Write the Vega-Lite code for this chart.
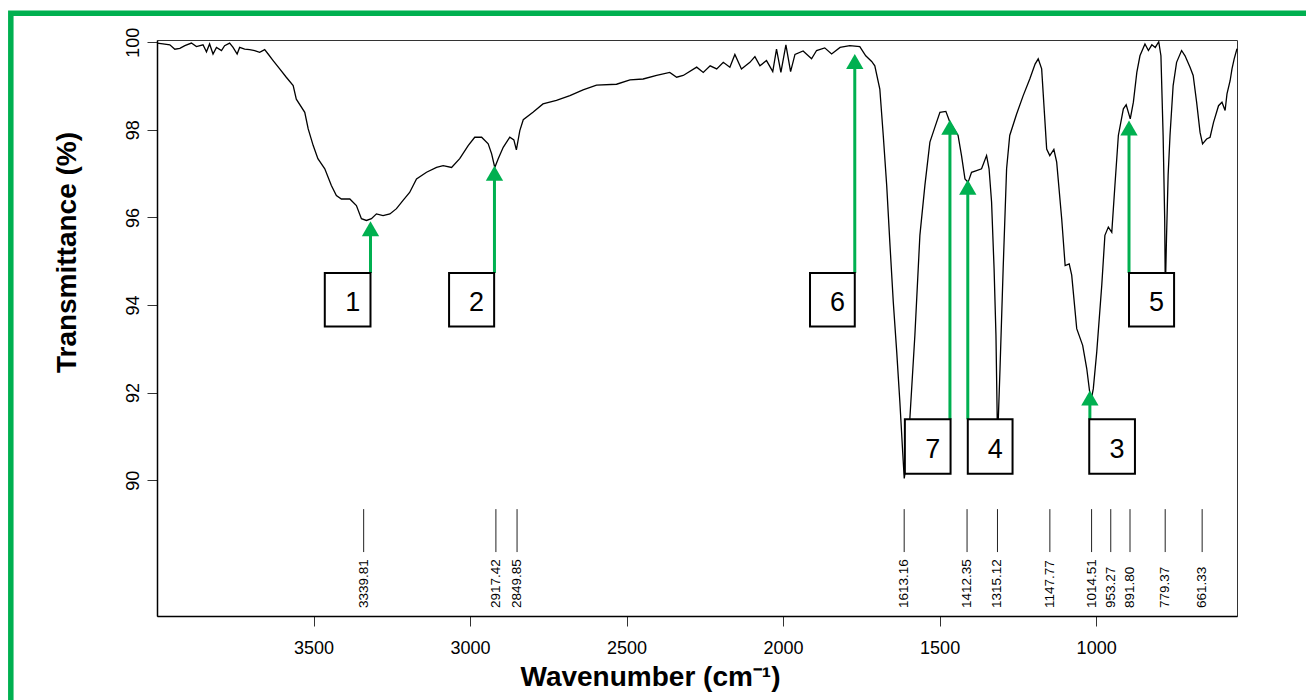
{
  "$schema": "https://vega.github.io/schema/vega-lite/v6.json",
  "width": 1080,
  "height": 576,
  "autosize": {"type": "none"},
  "padding": {"left": 157, "top": 40, "right": 69, "bottom": 84},
  "background": "white",
  "config": {
    "font": "Liberation Sans",
    "view": {"stroke": "#333333", "strokeWidth": 1},
    "axis": {"grid": false}
  },
  "datasets": {
    "spec": [
      {"wn": 4000, "t": 99.98}, {"wn": 3981, "t": 99.96}, {"wn": 3959, "t": 99.94}, {"wn": 3943, "t": 99.84},
      {"wn": 3927, "t": 99.86}, {"wn": 3911, "t": 99.92}, {"wn": 3890, "t": 99.98}, {"wn": 3874, "t": 99.90},
      {"wn": 3853, "t": 99.94}, {"wn": 3842, "t": 99.78}, {"wn": 3832, "t": 99.96}, {"wn": 3821, "t": 99.73},
      {"wn": 3810, "t": 99.88}, {"wn": 3794, "t": 99.81}, {"wn": 3784, "t": 99.92}, {"wn": 3768, "t": 99.98},
      {"wn": 3757, "t": 99.88}, {"wn": 3744, "t": 99.73}, {"wn": 3736, "t": 99.88}, {"wn": 3720, "t": 99.84},
      {"wn": 3704, "t": 99.83}, {"wn": 3688, "t": 99.81}, {"wn": 3672, "t": 99.77}, {"wn": 3656, "t": 99.83},
      {"wn": 3645, "t": 99.73}, {"wn": 3629, "t": 99.58}, {"wn": 3608, "t": 99.39}, {"wn": 3587, "t": 99.20},
      {"wn": 3565, "t": 99.01}, {"wn": 3555, "t": 98.70}, {"wn": 3528, "t": 98.40}, {"wn": 3517, "t": 98.02},
      {"wn": 3501, "t": 97.64}, {"wn": 3486, "t": 97.34}, {"wn": 3464, "t": 97.11}, {"wn": 3443, "t": 96.73},
      {"wn": 3427, "t": 96.50}, {"wn": 3411, "t": 96.42}, {"wn": 3384, "t": 96.42}, {"wn": 3363, "t": 96.27},
      {"wn": 3347, "t": 95.97}, {"wn": 3331, "t": 95.93}, {"wn": 3315, "t": 95.97}, {"wn": 3299, "t": 96.08},
      {"wn": 3278, "t": 96.04}, {"wn": 3256, "t": 96.08}, {"wn": 3235, "t": 96.20}, {"wn": 3214, "t": 96.39},
      {"wn": 3193, "t": 96.57}, {"wn": 3171, "t": 96.88}, {"wn": 3139, "t": 97.03}, {"wn": 3107, "t": 97.14},
      {"wn": 3086, "t": 97.18}, {"wn": 3059, "t": 97.14}, {"wn": 3033, "t": 97.34}, {"wn": 3006, "t": 97.64},
      {"wn": 2985, "t": 97.83}, {"wn": 2963, "t": 97.83}, {"wn": 2942, "t": 97.68}, {"wn": 2931, "t": 97.45},
      {"wn": 2921, "t": 97.14}, {"wn": 2910, "t": 97.34}, {"wn": 2894, "t": 97.60}, {"wn": 2873, "t": 97.83},
      {"wn": 2860, "t": 97.77}, {"wn": 2852, "t": 97.54}, {"wn": 2841, "t": 97.98}, {"wn": 2830, "t": 98.23},
      {"wn": 2799, "t": 98.40}, {"wn": 2767, "t": 98.59}, {"wn": 2724, "t": 98.67}, {"wn": 2681, "t": 98.78},
      {"wn": 2639, "t": 98.91}, {"wn": 2596, "t": 99.02}, {"wn": 2532, "t": 99.04}, {"wn": 2489, "t": 99.14},
      {"wn": 2447, "t": 99.16}, {"wn": 2404, "t": 99.24}, {"wn": 2362, "t": 99.31}, {"wn": 2340, "t": 99.20},
      {"wn": 2319, "t": 99.24}, {"wn": 2276, "t": 99.43}, {"wn": 2255, "t": 99.31}, {"wn": 2233, "t": 99.46},
      {"wn": 2212, "t": 99.39}, {"wn": 2191, "t": 99.54}, {"wn": 2170, "t": 99.43}, {"wn": 2154, "t": 99.72},
      {"wn": 2133, "t": 99.39}, {"wn": 2106, "t": 99.54}, {"wn": 2090, "t": 99.67}, {"wn": 2074, "t": 99.46},
      {"wn": 2053, "t": 99.58}, {"wn": 2033, "t": 99.33}, {"wn": 2021, "t": 99.84}, {"wn": 2007, "t": 99.31},
      {"wn": 1991, "t": 99.94}, {"wn": 1976, "t": 99.33}, {"wn": 1962, "t": 99.72}, {"wn": 1936, "t": 99.80},
      {"wn": 1909, "t": 99.62}, {"wn": 1893, "t": 99.81}, {"wn": 1867, "t": 99.87}, {"wn": 1845, "t": 99.73},
      {"wn": 1818, "t": 99.88}, {"wn": 1787, "t": 99.92}, {"wn": 1755, "t": 99.90}, {"wn": 1736, "t": 99.69},
      {"wn": 1717, "t": 99.56}, {"wn": 1707, "t": 99.46}, {"wn": 1691, "t": 98.93}, {"wn": 1680, "t": 97.87},
      {"wn": 1669, "t": 96.73}, {"wn": 1659, "t": 95.43}, {"wn": 1648, "t": 94.07}, {"wn": 1637, "t": 92.93},
      {"wn": 1627, "t": 91.79}, {"wn": 1618, "t": 90.65}, {"wn": 1613, "t": 90.04}, {"wn": 1605, "t": 90.42},
      {"wn": 1595, "t": 91.41}, {"wn": 1579, "t": 93.31}, {"wn": 1563, "t": 95.59}, {"wn": 1547, "t": 96.73},
      {"wn": 1531, "t": 97.72}, {"wn": 1515, "t": 98.06}, {"wn": 1499, "t": 98.40}, {"wn": 1480, "t": 98.42},
      {"wn": 1467, "t": 98.17}, {"wn": 1441, "t": 97.87}, {"wn": 1430, "t": 97.41}, {"wn": 1419, "t": 96.88},
      {"wn": 1409, "t": 96.80}, {"wn": 1398, "t": 97.03}, {"wn": 1382, "t": 97.07}, {"wn": 1366, "t": 97.11},
      {"wn": 1350, "t": 97.41}, {"wn": 1342, "t": 97.11}, {"wn": 1334, "t": 96.35}, {"wn": 1326, "t": 94.83},
      {"wn": 1320, "t": 93.31}, {"wn": 1316, "t": 91.41}, {"wn": 1315, "t": 91.0}, {"wn": 1312, "t": 91.5},
      {"wn": 1307, "t": 92.55}, {"wn": 1297, "t": 94.83}, {"wn": 1286, "t": 97.11}, {"wn": 1276, "t": 97.87},
      {"wn": 1254, "t": 98.36}, {"wn": 1233, "t": 98.78}, {"wn": 1212, "t": 99.16}, {"wn": 1195, "t": 99.50},
      {"wn": 1185, "t": 99.62}, {"wn": 1174, "t": 99.39}, {"wn": 1164, "t": 98.25}, {"wn": 1158, "t": 97.56},
      {"wn": 1148, "t": 97.41}, {"wn": 1135, "t": 97.55}, {"wn": 1126, "t": 97.26}, {"wn": 1110, "t": 95.97},
      {"wn": 1099, "t": 94.90}, {"wn": 1086, "t": 94.94}, {"wn": 1078, "t": 94.68}, {"wn": 1062, "t": 93.46},
      {"wn": 1043, "t": 93.08}, {"wn": 1030, "t": 92.55}, {"wn": 1020, "t": 91.98}, {"wn": 1014, "t": 91.90},
      {"wn": 1009, "t": 92.09}, {"wn": 998, "t": 92.93}, {"wn": 982, "t": 94.45}, {"wn": 972, "t": 95.59},
      {"wn": 961, "t": 95.78}, {"wn": 950, "t": 95.66}, {"wn": 940, "t": 96.73}, {"wn": 929, "t": 97.87},
      {"wn": 913, "t": 98.48}, {"wn": 904, "t": 98.57}, {"wn": 891, "t": 98.25}, {"wn": 881, "t": 98.63},
      {"wn": 870, "t": 99.31}, {"wn": 860, "t": 99.69}, {"wn": 844, "t": 99.96}, {"wn": 833, "t": 99.81},
      {"wn": 822, "t": 99.94}, {"wn": 811, "t": 99.88}, {"wn": 800, "t": 100.01}, {"wn": 793, "t": 99.69},
      {"wn": 786, "t": 97.87}, {"wn": 781, "t": 95.97}, {"wn": 779, "t": 94.3}, {"wn": 775, "t": 95.59},
      {"wn": 770, "t": 96.96}, {"wn": 764, "t": 97.87}, {"wn": 754, "t": 99.01}, {"wn": 743, "t": 99.54},
      {"wn": 727, "t": 99.81}, {"wn": 716, "t": 99.69}, {"wn": 700, "t": 99.43}, {"wn": 690, "t": 99.24},
      {"wn": 679, "t": 98.63}, {"wn": 668, "t": 97.94}, {"wn": 660, "t": 97.68}, {"wn": 647, "t": 97.79},
      {"wn": 636, "t": 97.83}, {"wn": 625, "t": 98.17}, {"wn": 609, "t": 98.55}, {"wn": 598, "t": 98.63},
      {"wn": 588, "t": 98.44}, {"wn": 582, "t": 98.82}, {"wn": 572, "t": 99.12}, {"wn": 566, "t": 99.39},
      {"wn": 559, "t": 99.62}, {"wn": 550, "t": 99.85}
    ],
    "peaks": [
      {"wn": 3339.81, "label": "3339.81"}, {"wn": 2917.42, "label": "2917.42"}, {"wn": 2849.85, "label": "2849.85"},
      {"wn": 1613.16, "label": "1613.16"}, {"wn": 1412.35, "label": "1412.35"}, {"wn": 1315.12, "label": "1315.12"},
      {"wn": 1147.77, "label": "1147.77"}, {"wn": 1014.51, "label": "1014.51"}, {"wn": 953.27, "label": "953.27"},
      {"wn": 891.80, "label": "891.80"}, {"wn": 779.37, "label": "779.37"}, {"wn": 661.33, "label": "661.33"}
    ],
    "boxes": [
      {"n": "1", "x1": 3464, "x2": 3318, "cx": 3391, "top": 94.73, "bottom": 93.51, "ax": 3318, "tip": 95.91},
      {"n": "2", "x1": 3067, "x2": 2923, "cx": 2995, "top": 94.73, "bottom": 93.51, "ax": 2922, "tip": 97.18},
      {"n": "6", "x1": 1914, "x2": 1771, "cx": 1842.5, "top": 94.73, "bottom": 93.51, "ax": 1771, "tip": 99.73},
      {"n": "7", "x1": 1611, "x2": 1465, "cx": 1538, "top": 91.39, "bottom": 90.15, "ax": 1467, "tip": 98.23},
      {"n": "4", "x1": 1410, "x2": 1267, "cx": 1338.5, "top": 91.39, "bottom": 90.15, "ax": 1410, "tip": 96.86},
      {"n": "3", "x1": 1022, "x2": 876, "cx": 949, "top": 91.39, "bottom": 90.15, "ax": 1020, "tip": 92.05},
      {"n": "5", "x1": 895, "x2": 751, "cx": 823, "top": 94.73, "bottom": 93.51, "ax": 895, "tip": 98.21}
    ],
    "frame": [
      {"x1": 4467, "x2": 285, "y1": 100.66, "y2": 84.5}
    ]
  },
  "layer": [
    {
      "data": {"name": "spec"},
      "mark": {"type": "line", "color": "black", "strokeWidth": 1.3},
      "encoding": {
        "x": {
          "field": "wn", "type": "quantitative",
          "scale": {"domain": [550, 4000], "reverse": true, "nice": false, "zero": false},
          "axis": {
            "orient": "bottom", "values": [1000, 1500, 2000, 2500, 3000, 3500], "format": "d",
            "tickSize": 10, "tickColor": "#333", "domainColor": "black", "domainWidth": 1.5,
            "labelFontSize": 18, "labelPadding": 13, "labelColor": "black",
            "title": "Wavenumber (cm⁻¹)", "titleFontSize": 28, "titleFontWeight": "bold", "titleColor": "black",
            "titleX": 493, "titleY": 69, "titleAlign": "center", "titleBaseline": "alphabetic"
          }
        },
        "y": {
          "field": "t", "type": "quantitative",
          "scale": {"domain": [86.9, 100.05], "nice": false, "zero": false},
          "axis": {
            "orient": "left", "values": [90, 92, 94, 96, 98, 100], "format": "d",
            "tickSize": 10, "tickColor": "#333", "domainColor": "black", "domainWidth": 1.5,
            "labelFontSize": 18, "labelPadding": 5, "labelAngle": 270, "labelAlign": "center", "labelBaseline": "bottom", "labelColor": "black",
            "title": "Transmittance (%)", "titleFontSize": 28, "titleFontWeight": "bold", "titleColor": "black",
            "titleX": -90, "titleY": 212, "titleAngle": 270, "titleAlign": "center", "titleBaseline": "middle"
          }
        }
      }
    },
    {
      "data": {"name": "peaks"},
      "mark": {"type": "rule", "color": "#222", "strokeWidth": 1},
      "encoding": {
        "x": {"field": "wn", "type": "quantitative", "scale": {"domain": [550, 4000], "reverse": true, "nice": false, "zero": false}},
        "y": {"datum": 89.34, "type": "quantitative", "scale": {"domain": [86.9, 100.05], "nice": false, "zero": false}},
        "y2": {"datum": 88.36}
      }
    },
    {
      "data": {"name": "peaks"},
      "mark": {"type": "text", "angle": 270, "align": "left", "baseline": "middle", "fontSize": 13.5, "color": "black"},
      "encoding": {
        "x": {"field": "wn", "type": "quantitative", "scale": {"domain": [550, 4000], "reverse": true, "nice": false, "zero": false}},
        "y": {"datum": 87.08, "type": "quantitative", "scale": {"domain": [86.9, 100.05], "nice": false, "zero": false}},
        "text": {"field": "label"}
      }
    },
    {
      "data": {"name": "boxes"},
      "mark": {"type": "rule", "color": "#00b050", "strokeWidth": 3, "y2Offset": 10},
      "encoding": {
        "x": {"field": "ax", "type": "quantitative", "scale": {"domain": [550, 4000], "reverse": true, "nice": false, "zero": false}},
        "y": {"field": "top", "type": "quantitative", "scale": {"domain": [86.9, 100.05], "nice": false, "zero": false}},
        "y2": {"field": "tip"}
      }
    },
    {
      "data": {"name": "boxes"},
      "mark": {"type": "point", "shape": "triangle-up", "filled": true, "size": 300, "color": "#00b050", "opacity": 1, "yOffset": 7.5},
      "encoding": {
        "x": {"field": "ax", "type": "quantitative", "scale": {"domain": [550, 4000], "reverse": true, "nice": false, "zero": false}},
        "y": {"field": "tip", "type": "quantitative", "scale": {"domain": [86.9, 100.05], "nice": false, "zero": false}}
      }
    },
    {
      "data": {"name": "boxes"},
      "mark": {"type": "rect", "fill": "white", "stroke": "black", "strokeWidth": 2},
      "encoding": {
        "x": {"field": "x1", "type": "quantitative", "scale": {"domain": [550, 4000], "reverse": true, "nice": false, "zero": false}},
        "x2": {"field": "x2"},
        "y": {"field": "top", "type": "quantitative", "scale": {"domain": [86.9, 100.05], "nice": false, "zero": false}},
        "y2": {"field": "bottom"}
      }
    },
    {
      "data": {"name": "boxes"},
      "mark": {"type": "text", "fontSize": 27, "align": "center", "baseline": "alphabetic", "dx": 5, "dy": -15.5, "color": "black"},
      "encoding": {
        "x": {"field": "cx", "type": "quantitative", "scale": {"domain": [550, 4000], "reverse": true, "nice": false, "zero": false}},
        "y": {"field": "bottom", "type": "quantitative", "scale": {"domain": [86.9, 100.05], "nice": false, "zero": false}},
        "text": {"field": "n"}
      }
    },
    {
      "data": {"name": "frame"},
      "mark": {"type": "rect", "fill": null, "fillOpacity": 0, "stroke": "#00b050", "strokeWidth": 5.5, "clip": false},
      "encoding": {
        "x": {"field": "x1", "type": "quantitative", "scale": {"domain": [550, 4000], "reverse": true, "nice": false, "zero": false}},
        "x2": {"field": "x2"},
        "y": {"field": "y1", "type": "quantitative", "scale": {"domain": [86.9, 100.05], "nice": false, "zero": false}},
        "y2": {"field": "y2"}
      }
    }
  ]
}
